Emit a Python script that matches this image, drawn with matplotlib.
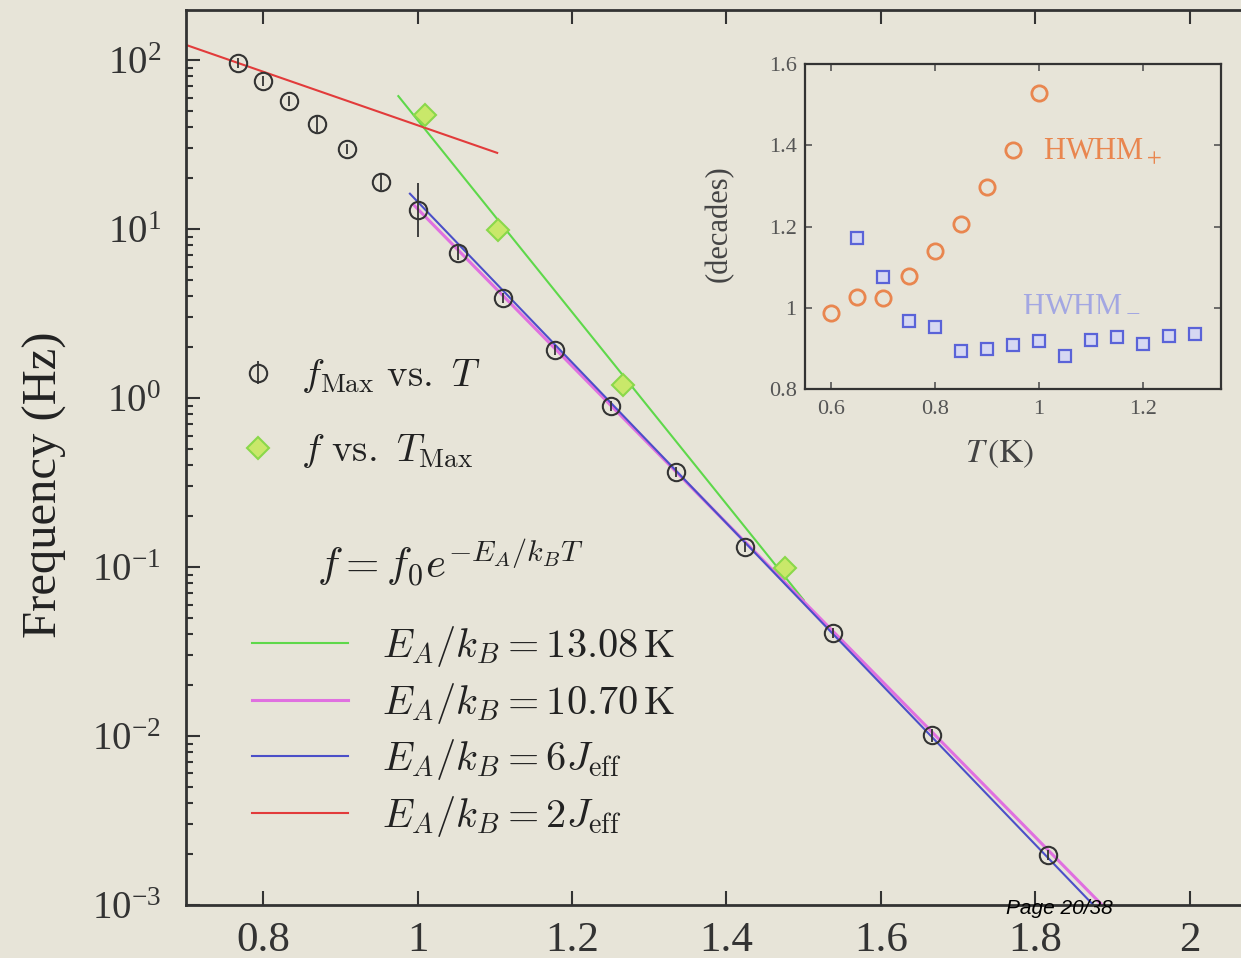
import numpy as np
import matplotlib.pyplot as plt
from matplotlib.ticker import LogLocator, NullFormatter
from matplotlib.legend_handler import HandlerErrorbar

plt.rcParams['font.family'] = ['Liberation Serif', 'DejaVu Serif']
plt.rcParams['mathtext.fontset'] = 'stix'

bg = '#e7e4d8'
ink = '#333333'

# main panel, x is 1/T (1/K)
inv_t = [0.767, 0.800, 0.833, 0.870, 0.909, 0.953, 1.000, 1.052,
         1.111, 1.178, 1.250, 1.335, 1.424, 1.538, 1.666, 1.817]
f_max = [96, 75, 57, 42, 29.7, 19, 12.9, 7.2,
         3.9, 1.92, 0.90, 0.365, 0.131, 0.0406, 0.0101, 0.00198]
err_dec = [0.03, 0.03, 0.03, 0.05, 0.03, 0.05, 0.16, 0.04,
           0.03, 0.03, 0.03, 0.03, 0.03, 0.03, 0.04, 0.03]

inv_tmax = [1.010, 1.104, 1.266, 1.476]
f_tmax = [47, 9.9, 1.19, 0.099]

# Arrhenius lines f = f0 exp(-EA/kB T)
fit_labels = [r'$E_A/k_B = 13.08\,\mathrm{K}$', r'$E_A/k_B = 10.70\,\mathrm{K}$',
              r'$E_A/k_B = 6J_\mathrm{eff}$', r'$E_A/k_B = 2J_\mathrm{eff}$']
fit_ea = [13.08, 10.70, 10.95, 3.65]
fit_logf0 = [7.325, 5.766, 5.917, 3.199]
fit_x0 = [0.975, 0.995, 0.990, 0.700]
fit_x1 = [1.500, 1.950, 1.950, 1.103]
fit_colors = ['#5ed84a', '#e070e0', '#4b4fc8', '#e23b3b']
fit_lw = [1.5, 2.2, 1.5, 1.5]

# inset: HWHM vs T
t_plus = [0.60, 0.65, 0.70, 0.75, 0.80, 0.85, 0.90, 0.95, 1.00]
hwhm_plus = [0.988, 1.027, 1.023, 1.078, 1.140, 1.205, 1.298, 1.388, 1.529]
t_minus = [0.65, 0.70, 0.75, 0.80, 0.85, 0.90, 0.95, 1.00, 1.05,
           1.10, 1.15, 1.20, 1.25, 1.30]
hwhm_minus = [1.171, 1.075, 0.967, 0.953, 0.894, 0.898, 0.908, 0.918, 0.881,
              0.921, 0.929, 0.911, 0.930, 0.935]

fig = plt.figure(figsize=(12.41, 9.58), dpi=100, facecolor=bg)
ax = fig.add_axes([186/1241, 53/958, 1081/1241, 895/958], facecolor=bg)

f = np.array(f_max)
d = np.array(err_dec)
yerr = [f*(1 - 10**-d), f*(10**d - 1)]

fit_handles = []
for lab, ea, lf0, x0, x1, c, lw in zip(fit_labels, fit_ea, fit_logf0, fit_x0, fit_x1, fit_colors, fit_lw):
    xx = np.array([x0, x1])
    yy = 10**(lf0 - ea*xx/np.log(10))
    h, = ax.plot(xx, yy, color=c, lw=lw, label=lab, zorder=2)
    fit_handles.append(h)
# blue on top of magenta
fit_handles[2].set_zorder(2.5)

eb = ax.errorbar(inv_t, f_max, yerr=yerr, fmt='o', mfc='none', mec=ink, ecolor=ink,
                 ms=12.5, mew=1.5, elinewidth=1.3, capsize=0, zorder=4,
                 label=r'$f_\mathrm{Max}\ \mathrm{vs.}\ T$')
dm, = ax.plot(inv_tmax, f_tmax, 'D', ms=11, mfc='#c9e86a', mec='#8ad84a', mew=1.5,
              ls='none', zorder=4, label=r'$f\ \mathrm{vs.}\ T_\mathrm{Max}$')

ax.set_yscale('log')
ax.set_xlim(0.7, 2.1)
ax.set_ylim(1e-3, 10**2.296)
ax.set_xticks([0.8, 1, 1.2, 1.4, 1.6, 1.8, 2])
ax.set_xticklabels(['0.8', '1', '1.2', '1.4', '1.6', '1.8', '2'])
ax.yaxis.set_major_locator(LogLocator(base=10, numticks=10))
ax.yaxis.set_minor_locator(LogLocator(base=10, subs=np.arange(2, 10), numticks=20))
ax.yaxis.set_minor_formatter(NullFormatter())
ax.tick_params(which='both', direction='in', top=True, right=True, colors=ink, width=1.5)
ax.tick_params(which='major', length=10)
ax.tick_params(which='minor', length=5)
ax.tick_params(axis='x', labelsize=31, pad=12)
ax.tick_params(axis='y', labelsize=28, pad=18)
for s in ax.spines.values():
    s.set_color(ink)
    s.set_linewidth(2)

ax.set_ylabel('Frequency (Hz)', fontsize=35, color='#222222')
ax.yaxis.set_label_coords(-0.11, 0.47)

leg1 = ax.legend(handles=[eb, dm], loc='upper left', bbox_to_anchor=(0.046, 0.612),
                 frameon=False, fontsize=28, handlelength=1.15, handletextpad=0.54,
                 borderpad=0, borderaxespad=0, labelspacing=0.95,
                 handler_map={type(eb): HandlerErrorbar(yerr_size=0.3)})
for t in leg1.get_texts():
    t.set_math_fontfamily('cm')
    t.set_color('#222222')
ax.add_artist(leg1)

leg2 = ax.legend(handles=fit_handles, loc='upper left', bbox_to_anchor=(0.061, 0.314),
                 frameon=False, fontsize=29, handlelength=2.38, handletextpad=0.84,
                 borderpad=0, borderaxespad=0, labelspacing=0.29)
for t in leg2.get_texts():
    t.set_math_fontfamily('cm')
    t.set_color('#222222')

ax.text(0.121, 0.382, r'$f = f_0 e^{-E_A/k_BT}$', transform=ax.transAxes, fontsize=31,
        va='center', ha='left', math_fontfamily='cm', color='#222222')

# inset
axins = fig.add_axes([805/1241, 569/958, 416/1241, 325/958], facecolor=bg)
axins.plot(t_plus, hwhm_plus, 'o', ms=11, mfc='none', mec='#e9864f', mew=2)
axins.plot(t_minus, hwhm_minus, 's', ms=9, mfc='#d6d8f2', mec='#5a63d8', mew=1.6)
axins.set_xlim(0.55, 1.35)
axins.set_ylim(0.8, 1.6)
axins.set_xticks([0.6, 0.8, 1.0, 1.2])
axins.set_xticklabels(['0.6', '0.8', '1', '1.2'])
axins.set_yticks([0.8, 1.0, 1.2, 1.4, 1.6])
axins.set_yticklabels(['0.8', '1', '1.2', '1.4', '1.6'])
axins.tick_params(direction='in', top=True, right=True, length=5, width=1.2,
                  colors='#555555', labelsize=16)
axins.tick_params(axis='x', pad=8)
axins.tick_params(axis='y', pad=6)
for s in axins.spines.values():
    s.set_color(ink)
    s.set_linewidth(1.6)
axins.set_ylabel('(decades)', fontsize=22, color='#444444')
axins.yaxis.set_label_coords(-0.17, 0.51)
axins.set_xlabel(r'$T\,\mathrm{(K)}$', fontsize=24, color='#444444')
axins.xaxis.set_label_coords(0.469, -0.15)
axins.text(0.572, 0.729, r'HWHM$_+$', transform=axins.transAxes, fontsize=22,
           color='#e9864f', va='center')
axins.text(0.522, 0.262, r'HWHM$_-$', transform=axins.transAxes, fontsize=22,
           color='#a3a7e2', va='center')

fig.text(1006/1241, 1 - 909/958, 'Page 20/38', family='Liberation Sans', style='italic',
         fontsize=15, va='center', ha='left', color='black', zorder=10)

fig.savefig('out.png', dpi=100, facecolor=bg)
